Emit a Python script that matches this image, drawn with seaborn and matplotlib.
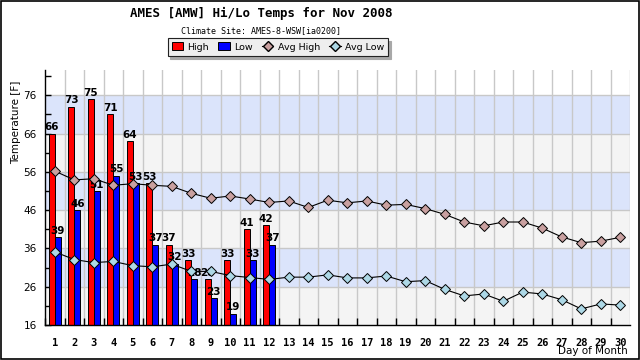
import matplotlib
matplotlib.use('Agg')
import matplotlib.pyplot as plt
import seaborn as sns
import pandas as pd
from matplotlib.lines import Line2D
from matplotlib.patches import Patch, Rectangle
from matplotlib.ticker import FixedLocator

# Observed daily highs/lows (only the first 12 days have data)
obs_days = list(range(1, 13))
high = [66, 73, 75, 71, 64, 53, 37, 33, 28, 33, 41, 42]
low = [39, 46, 51, 55, 53, 37, 32, 28, 23, 19, 33, 37]

# Climate averages for the whole month
days = list(range(1, 31))
avg_high = [56.2, 53.9, 54.2, 52.5, 52.9, 52.5, 52.2, 50.4, 49.1, 49.7,
            48.9, 48.0, 48.4, 46.7, 48.6, 47.9, 48.4, 47.3, 47.5, 46.4,
            44.9, 42.9, 41.9, 42.9, 42.9, 41.3, 39.0, 37.5, 37.9, 38.9]
avg_low = [35.1, 33.1, 32.3, 32.6, 31.5, 31.2, 31.9, 30.0, 30.0, 28.9,
           28.4, 27.9, 28.5, 28.5, 29.1, 28.3, 28.3, 28.8, 27.3, 27.6,
           25.3, 23.6, 24.1, 22.2, 24.6, 24.1, 22.6, 20.2, 21.5, 21.2]

y_ticks = [16, 26, 36, 46, 56, 66, 76]

COLORS = {
    'high': '#ff0000',
    'low': '#0000ff',
    'avg_high': '#c9a0a0',
    'avg_low': '#add8e6',
    'band_blue': '#dbe4fb',
    'band_grey': '#f4f4f4',
    'grid': '#c8c8c8',
}

obs = pd.DataFrame({'day': obs_days * 2,
                    'temp': high + low,
                    'kind': ['High'] * len(high) + ['Low'] * len(low)})
clim = pd.DataFrame({'day': days, 'avg_high': avg_high, 'avg_low': avg_low})

fig = plt.figure(figsize=(6.4, 3.6), dpi=100)
ax = fig.add_axes([45 / 640, 35 / 360, 585 / 640, 255 / 360])
ax.set_facecolor('white')

# alternating background bands + grid lines
for i in range(len(y_ticks) - 1):
    c = COLORS['band_grey'] if i % 2 == 0 else COLORS['band_blue']
    ax.axhspan(y_ticks[i], y_ticks[i + 1], color=c, lw=0, zorder=0)
for t in y_ticks[1:]:
    ax.axhline(t, color=COLORS['grid'], lw=1, zorder=1)
for x in [d + 0.5 for d in range(1, 31)]:
    ax.axvline(x, color=COLORS['grid'], lw=1, zorder=1)

sns.barplot(data=obs, x='day', y='temp', hue='kind', native_scale=True,
            palette={'High': COLORS['high'], 'Low': COLORS['low']},
            saturation=1, width=0.64, gap=0, errorbar=None,
            edgecolor='black', linewidth=0.7, legend=False, ax=ax, zorder=3)

for cont in ax.containers:
    ax.bar_label(cont, fmt='%d', padding=1, fontsize=7.5, fontweight='bold',
                 family='DejaVu Sans', zorder=4)

sns.lineplot(data=clim, x='day', y='avg_high', color='black', lw=0.8,
             marker='D', markersize=5.5, markerfacecolor=COLORS['avg_high'],
             markeredgecolor='black', markeredgewidth=0.7, ax=ax, zorder=6)
sns.lineplot(data=clim, x='day', y='avg_low', color='black', lw=0.8,
             marker='D', markersize=5.5, markerfacecolor=COLORS['avg_low'],
             markeredgecolor='black', markeredgewidth=0.7, ax=ax, zorder=6)

ax.set_xlim(0.5, 30.5)
ax.set_ylim(16, 82.6)

# ticks
ax.set_xticks(days)
ax.set_xticklabels([str(d) for d in days], family='DejaVu Sans Mono',
                   fontweight='bold', fontsize=7.5)
ax.xaxis.set_minor_locator(FixedLocator([d + 0.5 for d in range(0, 30)]))
ax.tick_params(axis='x', which='major', length=0, pad=9)
ax.tick_params(axis='x', which='minor', bottom=True, length=5,
               direction='in', width=1, color='black')
ax.set_yticks(y_ticks)
ax.yaxis.set_minor_locator(FixedLocator([t + 5 for t in y_ticks]))
ax.tick_params(axis='y', which='both', left=True, length=4, direction='in',
               width=1, labelsize=7.5, pad=6)
ax.grid(False)

for s in ['top', 'right']:
    ax.spines[s].set_visible(False)
ax.spines['left'].set_linewidth(1)
ax.spines['bottom'].set_linewidth(1)
ax.spines['left'].set_zorder(7)
ax.spines['bottom'].set_zorder(7)
ax.set_xlabel('')
ax.set_ylabel('')

fig.text(16 / 640, 1 - 122 / 360, 'Temperature [F]', rotation=90,
         ha='center', va='center', fontsize=7.5)
fig.text(628 / 640, 1 - 351 / 360, 'Day of Month', ha='right', va='center',
         fontsize=7.5)
fig.text(261 / 640, 1 - 13 / 360, 'AMES [AMW] Hi/Lo Temps for Nov 2008',
         ha='center', va='center', fontsize=9, fontweight='bold',
         family='DejaVu Sans Mono')
fig.text(261 / 640, 1 - 31 / 360, 'Climate Site: AMES-8-WSW[ia0200]',
         ha='center', va='center', fontsize=6, family='DejaVu Sans Mono')

handles = [
    Patch(facecolor=COLORS['high'], edgecolor='black', lw=0.7),
    Patch(facecolor=COLORS['low'], edgecolor='black', lw=0.7),
    Line2D([], [], color='black', lw=0.8, marker='D', markersize=5,
           markerfacecolor=COLORS['avg_high'], markeredgecolor='black'),
    Line2D([], [], color='black', lw=0.8, marker='D', markersize=5,
           markerfacecolor=COLORS['avg_low'], markeredgecolor='black'),
]
leg = fig.legend(handles, ['High', 'Low', 'Avg High', 'Avg Low'],
                 loc='center', bbox_to_anchor=(278 / 640, 1 - 47 / 360),
                 ncol=4, fontsize=6.8, frameon=True, fancybox=False,
                 shadow={'color': '#a8a8a8', 'alpha': 1},
                 facecolor='#eeeeee', edgecolor='#222222',
                 handlelength=1.2, handleheight=0.9, handletextpad=0.45,
                 columnspacing=1.0, borderpad=0.45, borderaxespad=0,
                 framealpha=1)
leg.get_frame().set_linewidth(0.8)

# outer black border of the image
fig.patches.append(Rectangle((0.001, 0.002), 0.997, 0.996, fill=False,
                             edgecolor='black', lw=1.2,
                             transform=fig.transFigure, figure=fig))

fig.savefig('out.png', dpi=100)
